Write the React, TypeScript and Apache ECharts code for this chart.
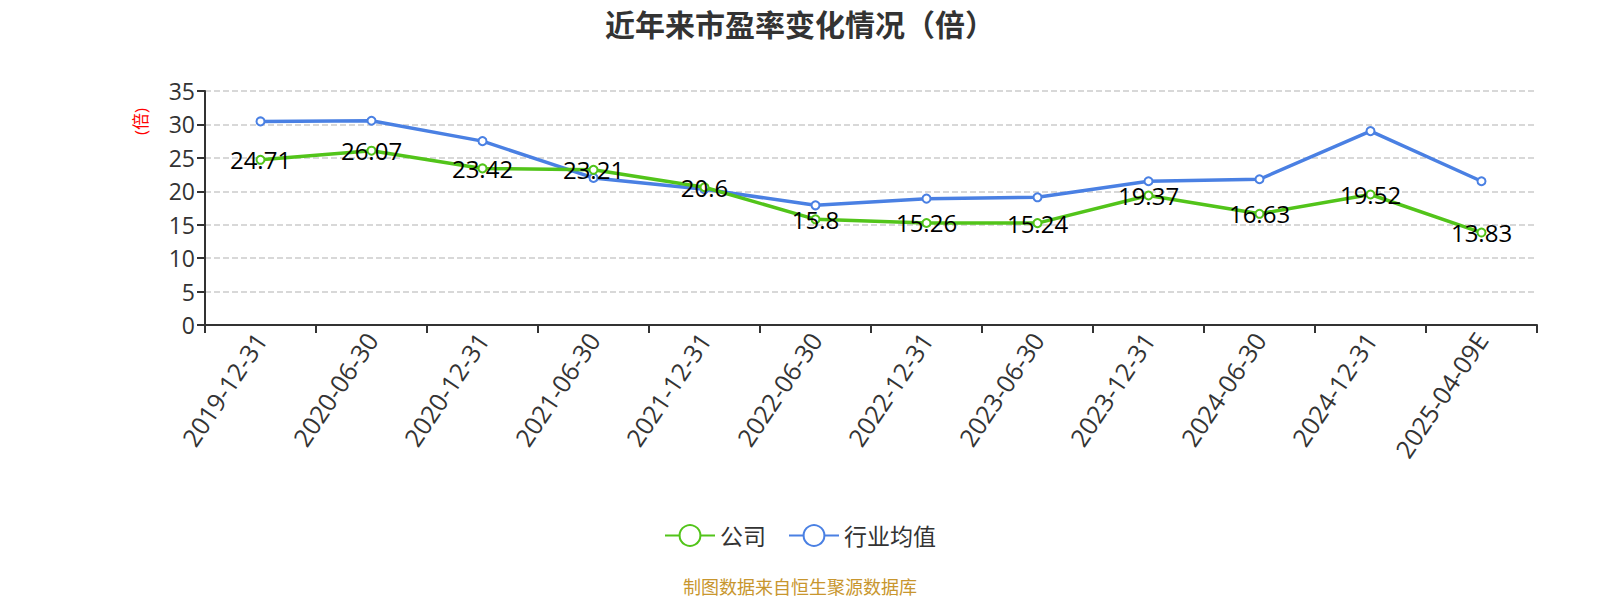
import React, { useEffect, useRef } from 'react';
import * as echarts from 'echarts';

const categories = [
  '2019-12-31',
  '2020-06-30',
  '2020-12-31',
  '2021-06-30',
  '2021-12-31',
  '2022-06-30',
  '2022-12-31',
  '2023-06-30',
  '2023-12-31',
  '2024-06-30',
  '2024-12-31',
  '2025-04-09E',
];

const companyPE = [24.71, 26.07, 23.42, 23.21, 20.6, 15.8, 15.26, 15.24, 19.37, 16.63, 19.52, 13.83];
const industryPE = [30.45, 30.55, 27.5, 22.0, 20.3, 17.9, 18.9, 19.1, 21.5, 21.8, 29.0, 21.5];

const FONT = '"Open Sans", "Noto Sans CJK SC", sans-serif';

const PEChart: React.FC = () => {
  const chartRef = useRef<HTMLDivElement | null>(null);

  useEffect(() => {
    document.body.style.margin = '0';
    if (!chartRef.current) return;
    const chart = echarts.init(chartRef.current, undefined, { renderer: 'svg' });

    const option: echarts.EChartsOption = {
      animation: false,
      textStyle: { fontFamily: FONT },
      title: {
        text: '近年来市盈率变化情况（倍）',
        left: 'center',
        top: 4,
        textStyle: { fontSize: 30, fontWeight: 'bold', color: '#333', fontFamily: FONT },
      },
      legend: {
        bottom: 48,
        left: 'center',
        itemWidth: 50,
        itemHeight: 26,
        itemGap: 22,
        textStyle: { fontSize: 23, color: '#333', fontFamily: FONT },
        data: ['公司', '行业均值'],
      },
      grid: { left: 205, right: 63, top: 91, bottom: 275 },
      graphic: [
        {
          type: 'text',
          left: 132,
          top: 108,
          rotation: Math.PI / 2,
          style: { text: '(倍)', fill: '#ff0000', fontSize: 17, fontFamily: FONT },
        },
        {
          type: 'text',
          left: 'center',
          top: 578,
          style: { text: '制图数据来自恒生聚源数据库', fill: '#c8962e', fontSize: 18, fontFamily: FONT },
        },
      ],
      xAxis: {
        type: 'category',
        data: categories,
        boundaryGap: true,
        axisLine: { lineStyle: { color: '#333', width: 2 } },
        axisTick: { show: true, length: 8, lineStyle: { color: '#333', width: 2 } },
        axisLabel: { rotate: 56, fontSize: 25, color: '#333', margin: 10, interval: 0 },
      },
      yAxis: {
        type: 'value',
        min: 0,
        max: 35,
        interval: 5,
        axisLine: { show: true, lineStyle: { color: '#333', width: 2 } },
        axisTick: { show: true, length: 8, lineStyle: { color: '#333', width: 2 } },
        axisLabel: { fontSize: 23, color: '#333', margin: 10 },
        splitLine: { lineStyle: { type: 'dashed', color: '#ccc', width: 1.5 } },
      },
      series: [
        {
          name: '公司',
          type: 'line',
          data: companyPE,
          symbol: 'emptyCircle',
          symbolSize: 8,
          itemStyle: { color: '#52c41a' },
          lineStyle: { width: 3.5, color: '#52c41a' },
          label: { show: true, position: 'inside', fontSize: 24, color: '#000', fontFamily: FONT },
          z: 3,
        },
        {
          name: '行业均值',
          type: 'line',
          data: industryPE,
          symbol: 'emptyCircle',
          symbolSize: 8,
          itemStyle: { color: '#4a80e3' },
          lineStyle: { width: 3.5, color: '#4a80e3' },
          z: 2,
        },
      ],
    };

    chart.setOption(option);
    return () => {
      chart.dispose();
    };
  }, []);

  return <div ref={chartRef} style={{ width: '1600px', height: '600px' }} />;
};

export default function App() {
  return <PEChart />;
}
